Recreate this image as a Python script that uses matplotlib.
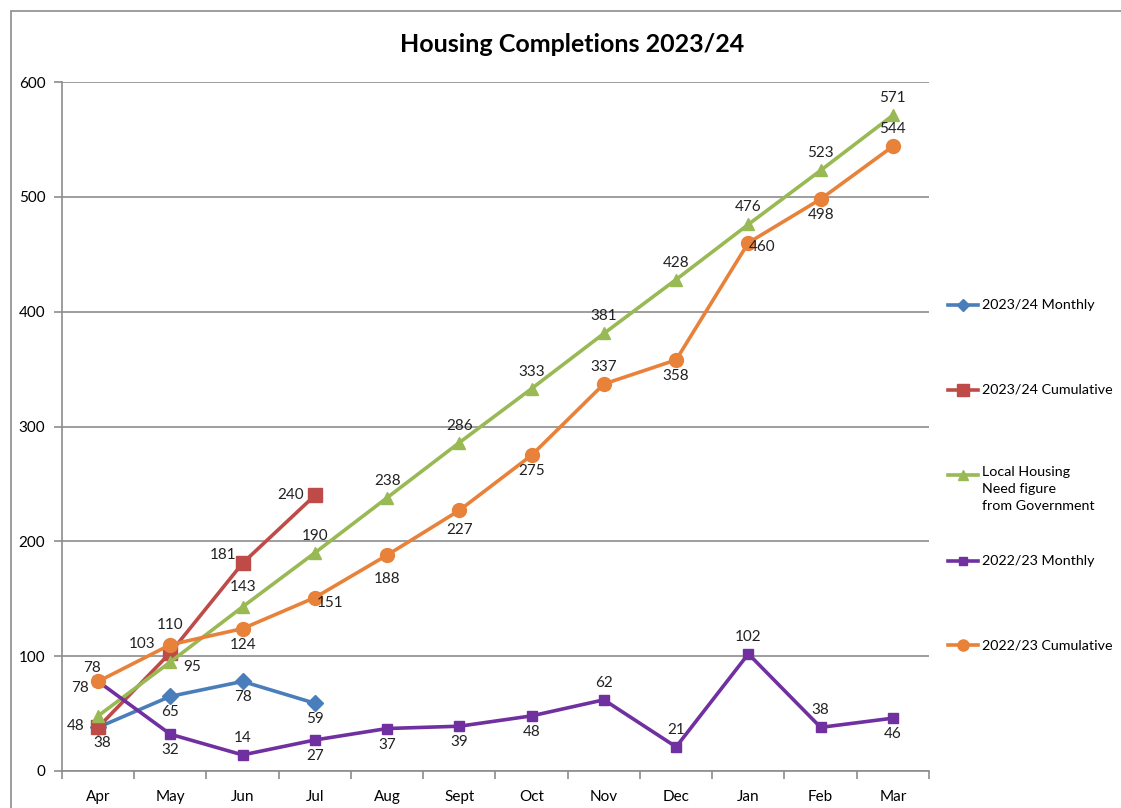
import matplotlib.pyplot as plt
from matplotlib.lines import Line2D
from matplotlib.patches import Rectangle

plt.rcParams['font.family'] = ['Lato', 'DejaVu Sans']

months = ['Apr', 'May', 'Jun', 'Jul', 'Aug', 'Sept', 'Oct', 'Nov', 'Dec', 'Jan', 'Feb', 'Mar']

monthly_2324 = [38, 65, 78, 59]
cumulative_2324 = [38, 103, 181, 240]
need_figure = [48, 95, 143, 190, 238, 286, 333, 381, 428, 476, 523, 571]
monthly_2223 = [78, 32, 14, 27, 37, 39, 48, 62, 21, 102, 38, 46]
cumulative_2223 = [78, 110, 124, 151, 188, 227, 275, 337, 358, 460, 498, 544]

# label placement per point: (dx, dy) in pixels
A, B, L, R = (0, 17), (0, -16), (-22, 0), (18, -4)
pos_m2324 = [None, B, B, B]
pos_c2324 = [(4, -16), (-28, 9), (-20, 8), (-24, 0)]
pos_need = [(-22, -10), (22, -5), (0, 20), A, A, A, A, A, A, A, A, A]
pos_m2223 = [(-18, -7), B, A, B, B, B, B, A, A, A, A, B]
pos_c2223 = [(-6, 13), (0, 20), B, (15, -5), (0, -24), (0, -20), B, A, B, (14, -4), B, A]

series = [
    ('2023/24 Monthly', monthly_2324, pos_m2324, '#4A7EBB', 'D', 8),
    ('2023/24 Cumulative', cumulative_2324, pos_c2324, '#BE4B48', 's', 10),
    ('Local Housing\nNeed figure\nfrom Government', need_figure, pos_need, '#98B954', '^', 9),
    ('2022/23 Monthly', monthly_2223, pos_m2223, '#7030A0', 's', 7),
    ('2022/23 Cumulative', cumulative_2223, pos_c2223, '#E8823A', 'o', 10),
]

fig = plt.figure(figsize=(11.21, 8.08), dpi=100)
W, H = 1121, 808
ax = fig.add_axes([62 / W, 1 - 771 / H, (929 - 62) / W, (771 - 82) / H])

# chart frame
fig.patches.append(Rectangle((11 / W, -0.1), 1.2, 1 - 11 / H + 0.1, transform=fig.transFigure,
                             fill=False, edgecolor='#8c8c8c', linewidth=1.2))

for name, vals, pos, col, mk, ms in series:
    x = list(range(len(vals)))
    ax.plot(x, vals, color=col, linewidth=2.6, marker=mk, markersize=ms, zorder=3)
    for xi, v, p in zip(x, vals, pos):
        if p is None:
            continue
        ax.annotate(str(v), (xi, v), xytext=p, textcoords='offset pixels',
                    ha='center', va='center', fontsize=11, color='#222222', zorder=4)

ax.set_xlim(-0.5, 11.5)
ax.set_ylim(0, 600)
ax.set_yticks(range(0, 601, 100))
ax.set_xticks(range(12))
ax.set_xticklabels(months)
ax.set_xticks([i + 0.5 for i in range(-1, 12)], minor=True)
ax.tick_params(axis='x', which='major', length=0, pad=14, labelsize=11)
ax.tick_params(axis='x', which='minor', length=6, color='#8c8c8c', width=1.2)
ax.tick_params(axis='y', length=6, color='#8c8c8c', width=1.2, pad=6, labelsize=11)
ax.grid(axis='y', color='#8c8c8c', linewidth=1.2)
ax.set_axisbelow(True)
for s in ['top', 'right']:
    ax.spines[s].set_visible(False)
for s in ['left', 'bottom']:
    ax.spines[s].set_color('#8c8c8c')
    ax.spines[s].set_linewidth(1.2)

fig.text(572 / W, 1 - 45 / H, 'Housing Completions 2023/24', ha='center', va='center',
         fontsize=18, fontweight='bold')

# legend drawn by hand to match the spaced layout
leg_y = [305, 390, 475, 561, 645]
for (name, vals, pos, col, mk, ms), yy in zip(series, leg_y):
    fy = 1 - yy / H
    fig.add_artist(Line2D([948 / W, 978 / W], [fy, fy], color=col, linewidth=2.6,
                          transform=fig.transFigure))
    fig.add_artist(Line2D([963 / W], [fy], color=col, marker=mk, markersize=ms * 0.8,
                          transform=fig.transFigure))
    if '\n' in name:
        fig.text(982 / W, fy + 9 / H, name, ha='left', va='top', fontsize=10.3, linespacing=1.5)
    else:
        fig.text(982 / W, fy, name, ha='left', va='center', fontsize=10.3)

fig.savefig('out.png', dpi=100)
